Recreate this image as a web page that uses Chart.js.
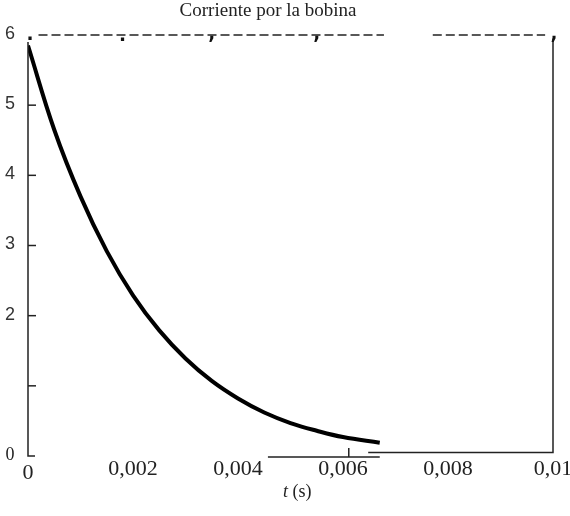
<!DOCTYPE html>
<html>
<head>
<meta charset="utf-8">
<script src="https://cdn.jsdelivr.net/npm/chart.js@4/dist/chart.umd.min.js"></script>
<style>
  body { margin: 0; background: #fff; }
  canvas { display: block; }
</style>
</head>
<body>
<canvas id="grafico" width="570" height="516"></canvas>
<script>
// tiempo (s) y corriente
const tiempos = [0, 0.0005, 0.001, 0.0015, 0.002, 0.0025, 0.003, 0.0035, 0.004, 0.0045, 0.005, 0.0055, 0.006, 0.0067];
const corriente = [5.85, 4.65, 3.70, 2.92, 2.29, 1.79, 1.39, 1.07, 0.82, 0.62, 0.47, 0.36, 0.27, 0.19];

// etiquetas de los ejes
const xTicks = [0, 0.002, 0.004, 0.006, 0.008, 0.01];
const xTickLabels = ["0", "0,002", "0,004", "0,006", "0,008", "0,01"];
const yTicks = [0, 2, 3, 4, 5, 6];
const yTickLabels = ["0", "2", "3", "4", "5", "6"];
const yMarcas = [1, 2, 3, 4, 5];

const titulo = "Corriente por la bobina";

// dibuja los ejes "escaneados" a mano con las escalas de Chart.js
const ejesPlugin = {
  id: "ejes",
  afterDraw(chart) {
    const ctx = chart.ctx;
    const xs = chart.scales.x;
    const ys = chart.scales.y;
    const X = v => xs.getPixelForValue(v);
    const Y = v => ys.getPixelForValue(v);

    ctx.save();
    ctx.strokeStyle = "#222";
    ctx.lineWidth = 1.5;

    // eje izquierdo
    ctx.beginPath();
    ctx.moveTo(X(0), Y(5.9));
    ctx.lineTo(X(0), Y(0));
    ctx.lineTo(X(0) + 7, Y(0));
    ctx.stroke();

    // marcas interiores del eje y
    yMarcas.forEach(v => {
      ctx.beginPath();
      ctx.moveTo(X(0), Y(v));
      ctx.lineTo(X(0) + 8, Y(v));
      ctx.stroke();
    });

    // trozos del eje inferior
    ctx.beginPath();
    ctx.moveTo(X(0.00457), Y(0) + 1);
    ctx.lineTo(X(0.0067), Y(0) + 1);
    ctx.moveTo(X(0.00611), Y(0) + 1);
    ctx.lineTo(X(0.00611), Y(0) - 8);
    ctx.stroke();

    ctx.beginPath();
    ctx.moveTo(X(0.00648), Y(0.05));
    ctx.lineTo(X(0.01), Y(0.05));
    ctx.lineTo(X(0.01), Y(5.95));
    ctx.stroke();

    // linea superior a trazos
    ctx.lineWidth = 1.4;
    ctx.setLineDash([9, 4]);
    ctx.beginPath();
    ctx.moveTo(X(0.0002), Y(6));
    ctx.lineTo(X(0.00678), Y(6));
    ctx.moveTo(X(0.00771), Y(6));
    ctx.lineTo(X(0.00985), Y(6));
    ctx.stroke();
    ctx.setLineDash([]);

    ctx.fillStyle = "#111";
    ctx.font = "bold 20px 'DejaVu Sans Mono'";
    ctx.textAlign = "center";
    ctx.textBaseline = "middle";
    ctx.fillText(".", X(0) + 2, Y(6));
    ctx.fillText(".", X(0.0018), Y(6) + 1);
    ctx.fillText(",", X(0.0035), Y(6) - 1);
    ctx.fillText(",", X(0.0055), Y(6) - 1);
    ctx.fillText(",", X(0.01) + 1, Y(6) - 1);

    // etiquetas eje y
    yTicks.forEach((v, i) => {
      if (v === 0) {
        ctx.font = "18px 'Liberation Serif'";
        ctx.fillStyle = "#222";
      } else {
        ctx.font = "18px 'Liberation Sans'";
        ctx.fillStyle = "#333";
      }
      ctx.fillText(yTickLabels[i], X(0) - 18, Y(v) - 1);
    });

    // etiquetas eje x
    ctx.fillStyle = "#222";
    ctx.font = "22px 'Liberation Serif'";
    ctx.textBaseline = "top";
    xTicks.forEach((v, i) => {
      const dy = v === 0 ? 6 : 2;
      ctx.fillText(xTickLabels[i], X(v), Y(0) + dy);
    });

    // titulo del eje x
    ctx.font = "italic 18px 'Liberation Serif'";
    ctx.textAlign = "right";
    ctx.fillText("t", 288, 483);
    ctx.font = "18px 'Liberation Serif'";
    ctx.textAlign = "left";
    ctx.fillText(" (s)", 288, 483);

    // titulo
    ctx.font = "19px 'Liberation Serif'";
    ctx.textAlign = "center";
    ctx.fillText(titulo, 268, 2);
    ctx.restore();
  }
};

new Chart(document.getElementById("grafico"), {
  type: "line",
  data: {
    datasets: [
      {
        label: "Corriente",
        data: tiempos.map((t, i) => ({ x: t, y: corriente[i] })),
        borderColor: "#000",
        borderWidth: 4,
        pointRadius: 0,
        tension: 0.4,
        fill: false,
      },
    ],
  },
  options: {
    responsive: false,
    animation: false,
    layout: {
      padding: { left: 28, right: 17, top: 35, bottom: 60 },
    },
    scales: {
      x: {
        type: "linear",
        min: 0,
        max: 0.01,
        display: true,
        grid: { display: false },
        border: { display: false },
        ticks: { display: false },
        afterFit: s => { s.height = 0; },
      },
      y: {
        min: 0,
        max: 6,
        display: true,
        grid: { display: false },
        border: { display: false },
        ticks: { display: false },
        afterFit: s => { s.width = 0; },
      },
    },
    plugins: {
      legend: { display: false },
      tooltip: { enabled: false },
    },
  },
  plugins: [ejesPlugin],
});
</script>
</body>
</html>
